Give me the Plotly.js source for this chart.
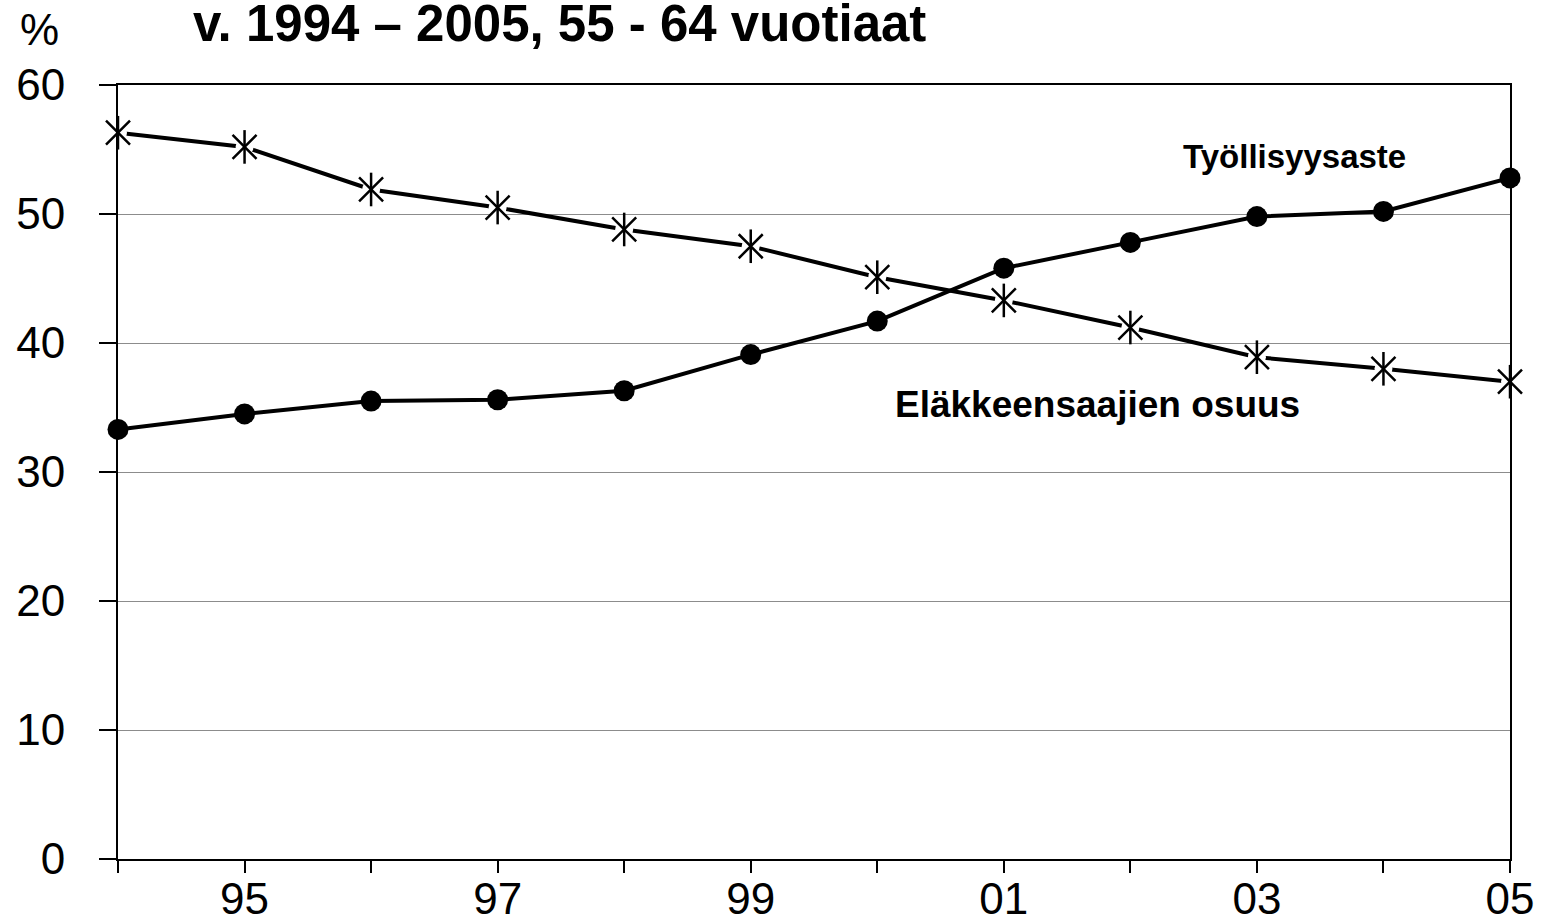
<!DOCTYPE html>
<html>
<head>
<meta charset="utf-8">
<script src="https://cdn.plot.ly/plotly-3.0.1.min.js"></script>
<style>html,body{margin:0;padding:0;background:#fff;}#chart{width:1546px;height:923px;}</style>
</head>
<body>
<div id="chart"></div>
<script>
const years = [1994, 1995, 1996, 1997, 1998, 1999, 2000, 2001, 2002, 2003, 2004, 2005];
const tickLabels = ['', '95', '', '97', '', '99', '', '01', '', '03', '', '05'];
const tyollisyysaste = [33.3, 34.5, 35.5, 35.6, 36.3, 39.1, 41.7, 45.8, 47.8, 49.8, 50.2, 52.8];
const elakkeensaajat = [56.3, 55.2, 51.9, 50.5, 48.8, 47.5, 45.1, 43.3, 41.2, 38.9, 38.0, 37.0];
const yTicks = [0, 10, 20, 30, 40, 50, 60];
const titleText = 'v. 1994 – 2005, 55 - 64 vuotiaat';
const seriesNames = ['Työllisyysaste', 'Eläkkeensaajien osuus'];

const FONT = '"Liberation Sans", Arial, Helvetica, sans-serif';

const traces = [
  {
    x: years, y: elakkeensaajat, mode: 'lines+markers', name: seriesNames[1],
    line: {color: '#000', width: 4},
    marker: {symbol: 'circle', size: 18, color: '#fff', line: {width: 0}},
    cliponaxis: false, hoverinfo: 'skip'
  },
  {
    x: years, y: elakkeensaajat, mode: 'markers', name: seriesNames[1],
    marker: {symbol: 'x-thin-open', size: 24, color: '#000', line: {color: '#000', width: 2.5}},
    cliponaxis: false
  },
  {
    x: years, y: elakkeensaajat, mode: 'markers', name: seriesNames[1],
    marker: {symbol: 'line-ns-open', size: 24, color: '#000', line: {color: '#000', width: 2.5}},
    cliponaxis: false
  },
  {
    x: years, y: tyollisyysaste, mode: 'lines+markers', name: seriesNames[0],
    line: {color: '#000', width: 4},
    marker: {symbol: 'circle', size: 21, color: '#000'},
    cliponaxis: false
  }
];

const layout = {
  width: 1546, height: 923,
  margin: {l: 118, r: 36, t: 85, b: 64, pad: 0},
  paper_bgcolor: '#fff', plot_bgcolor: '#fff',
  showlegend: false,
  font: {family: FONT, color: '#000'},
  title: {
    text: '<b>' + titleText + '</b>',
    font: {family: FONT, size: 51, color: '#000'},
    xref: 'container', yref: 'container',
    x: 193 / 1546, xanchor: 'left',
    y: 1 - 23 / 923, yanchor: 'middle'
  },
  xaxis: {
    range: [years[0], years[years.length - 1]],
    tickmode: 'array', tickvals: years, ticktext: tickLabels,
    ticks: 'outside', ticklen: 12, tickwidth: 2, tickcolor: '#000',
    showline: true, linecolor: '#000', linewidth: 2, mirror: true,
    showgrid: false, zeroline: false,
    tickfont: {family: FONT, size: 44, color: '#000'},
    ticklabelstandoff: -12
  },
  yaxis: {
    range: [yTicks[0], yTicks[yTicks.length - 1]],
    tickmode: 'array', tickvals: yTicks,
    ticks: 'outside', ticklen: 17, tickwidth: 2, tickcolor: '#000',
    showline: true, linecolor: '#000', linewidth: 2, mirror: true,
    showgrid: true, gridcolor: '#8c8c8c', gridwidth: 1,
    zeroline: false,
    tickfont: {family: FONT, size: 44, color: '#000'},
    ticklabelstandoff: 25
  },
  annotations: [
    {
      text: '%', xref: 'paper', yref: 'paper',
      x: (18 - 118) / 1392, xanchor: 'left',
      y: 1 + (85 - 29) / 774, yanchor: 'middle',
      showarrow: false, font: {family: FONT, size: 44, color: '#000'}
    },
    {
      text: '<b>' + seriesNames[0] + '</b>', xref: 'paper', yref: 'paper',
      x: (1181 - 118) / 1392, xanchor: 'left',
      y: 1 - (156 - 85) / 774, yanchor: 'middle',
      showarrow: false, font: {family: FONT, size: 33, color: '#000'}
    },
    {
      text: '<b>' + seriesNames[1] + '</b>', xref: 'paper', yref: 'paper',
      x: (893 - 118) / 1392, xanchor: 'left',
      y: 1 - (405 - 85) / 774, yanchor: 'middle',
      showarrow: false, font: {family: FONT, size: 37, color: '#000'}
    }
  ]
};

Plotly.newPlot('chart', traces, layout, {staticPlot: true, displayModeBar: false});
</script>
</body>
</html>
